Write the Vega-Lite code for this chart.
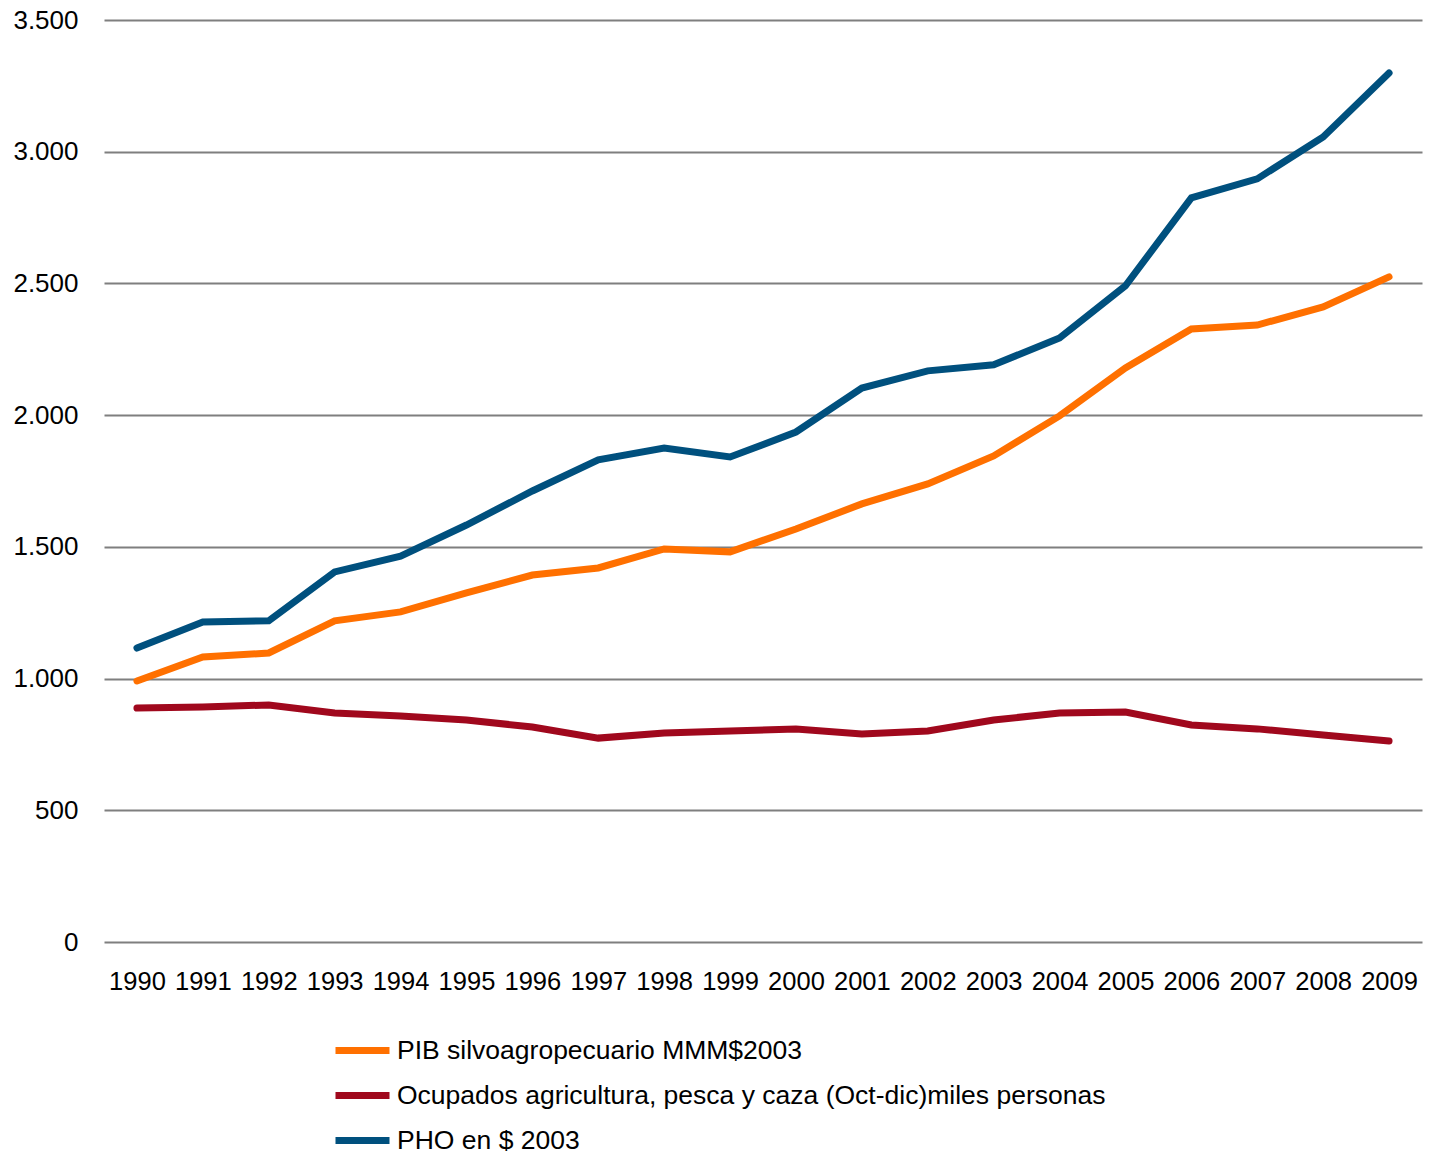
{
  "$schema": "https://vega.github.io/schema/vega-lite/v6.json",
  "width": 1318,
  "height": 922,
  "autosize": {"type": "none"},
  "padding": {"left": 104, "top": 20, "right": 9, "bottom": 213},
  "background": "white",
  "config": {"view": {"stroke": null}},
  "datasets": {
    "d": [
      {"year": "1990", "series": "PIB silvoagropecuario MMM$2003", "value": 991},
      {"year": "1991", "series": "PIB silvoagropecuario MMM$2003", "value": 1082},
      {"year": "1992", "series": "PIB silvoagropecuario MMM$2003", "value": 1097},
      {"year": "1993", "series": "PIB silvoagropecuario MMM$2003", "value": 1219},
      {"year": "1994", "series": "PIB silvoagropecuario MMM$2003", "value": 1253},
      {"year": "1995", "series": "PIB silvoagropecuario MMM$2003", "value": 1325},
      {"year": "1996", "series": "PIB silvoagropecuario MMM$2003", "value": 1393},
      {"year": "1997", "series": "PIB silvoagropecuario MMM$2003", "value": 1420},
      {"year": "1998", "series": "PIB silvoagropecuario MMM$2003", "value": 1492},
      {"year": "1999", "series": "PIB silvoagropecuario MMM$2003", "value": 1481},
      {"year": "2000", "series": "PIB silvoagropecuario MMM$2003", "value": 1568},
      {"year": "2001", "series": "PIB silvoagropecuario MMM$2003", "value": 1663},
      {"year": "2002", "series": "PIB silvoagropecuario MMM$2003", "value": 1739},
      {"year": "2003", "series": "PIB silvoagropecuario MMM$2003", "value": 1845},
      {"year": "2004", "series": "PIB silvoagropecuario MMM$2003", "value": 1997},
      {"year": "2005", "series": "PIB silvoagropecuario MMM$2003", "value": 2179},
      {"year": "2006", "series": "PIB silvoagropecuario MMM$2003", "value": 2327},
      {"year": "2007", "series": "PIB silvoagropecuario MMM$2003", "value": 2342},
      {"year": "2008", "series": "PIB silvoagropecuario MMM$2003", "value": 2411},
      {"year": "2009", "series": "PIB silvoagropecuario MMM$2003", "value": 2525},
      {"year": "1990", "series": "Ocupados agricultura, pesca y caza (Oct-dic)miles personas", "value": 888},
      {"year": "1991", "series": "Ocupados agricultura, pesca y caza (Oct-dic)miles personas", "value": 892},
      {"year": "1992", "series": "Ocupados agricultura, pesca y caza (Oct-dic)miles personas", "value": 900},
      {"year": "1993", "series": "Ocupados agricultura, pesca y caza (Oct-dic)miles personas", "value": 869},
      {"year": "1994", "series": "Ocupados agricultura, pesca y caza (Oct-dic)miles personas", "value": 858},
      {"year": "1995", "series": "Ocupados agricultura, pesca y caza (Oct-dic)miles personas", "value": 843},
      {"year": "1996", "series": "Ocupados agricultura, pesca y caza (Oct-dic)miles personas", "value": 816},
      {"year": "1997", "series": "Ocupados agricultura, pesca y caza (Oct-dic)miles personas", "value": 774},
      {"year": "1998", "series": "Ocupados agricultura, pesca y caza (Oct-dic)miles personas", "value": 793},
      {"year": "1999", "series": "Ocupados agricultura, pesca y caza (Oct-dic)miles personas", "value": 801},
      {"year": "2000", "series": "Ocupados agricultura, pesca y caza (Oct-dic)miles personas", "value": 809},
      {"year": "2001", "series": "Ocupados agricultura, pesca y caza (Oct-dic)miles personas", "value": 790},
      {"year": "2002", "series": "Ocupados agricultura, pesca y caza (Oct-dic)miles personas", "value": 801},
      {"year": "2003", "series": "Ocupados agricultura, pesca y caza (Oct-dic)miles personas", "value": 843},
      {"year": "2004", "series": "Ocupados agricultura, pesca y caza (Oct-dic)miles personas", "value": 869},
      {"year": "2005", "series": "Ocupados agricultura, pesca y caza (Oct-dic)miles personas", "value": 873},
      {"year": "2006", "series": "Ocupados agricultura, pesca y caza (Oct-dic)miles personas", "value": 824},
      {"year": "2007", "series": "Ocupados agricultura, pesca y caza (Oct-dic)miles personas", "value": 809},
      {"year": "2008", "series": "Ocupados agricultura, pesca y caza (Oct-dic)miles personas", "value": 786},
      {"year": "2009", "series": "Ocupados agricultura, pesca y caza (Oct-dic)miles personas", "value": 763},
      {"year": "1990", "series": "PHO en $ 2003", "value": 1116},
      {"year": "1991", "series": "PHO en $ 2003", "value": 1215},
      {"year": "1992", "series": "PHO en $ 2003", "value": 1219},
      {"year": "1993", "series": "PHO en $ 2003", "value": 1405},
      {"year": "1994", "series": "PHO en $ 2003", "value": 1465},
      {"year": "1995", "series": "PHO en $ 2003", "value": 1583},
      {"year": "1996", "series": "PHO en $ 2003", "value": 1712},
      {"year": "1997", "series": "PHO en $ 2003", "value": 1830},
      {"year": "1998", "series": "PHO en $ 2003", "value": 1875},
      {"year": "1999", "series": "PHO en $ 2003", "value": 1841},
      {"year": "2000", "series": "PHO en $ 2003", "value": 1936},
      {"year": "2001", "series": "PHO en $ 2003", "value": 2103},
      {"year": "2002", "series": "PHO en $ 2003", "value": 2168},
      {"year": "2003", "series": "PHO en $ 2003", "value": 2191},
      {"year": "2004", "series": "PHO en $ 2003", "value": 2293},
      {"year": "2005", "series": "PHO en $ 2003", "value": 2491},
      {"year": "2006", "series": "PHO en $ 2003", "value": 2825},
      {"year": "2007", "series": "PHO en $ 2003", "value": 2897},
      {"year": "2008", "series": "PHO en $ 2003", "value": 3056},
      {"year": "2009", "series": "PHO en $ 2003", "value": 3299}
    ]
  },
  "data": {"name": "d"},
  "mark": {"type": "line", "strokeWidth": 7, "strokeCap": "round", "strokeJoin": "miter"},
  "encoding": {
    "x": {
      "field": "year",
      "type": "ordinal",
      "scale": {"type": "point", "padding": 0.5},
      "axis": {
        "title": null,
        "labelAngle": 0,
        "domain": false,
        "ticks": false,
        "grid": false,
        "labelFont": "Liberation Sans",
        "labelFontSize": 25.5,
        "labelColor": "#000000",
        "labelPadding": 27
      }
    },
    "y": {
      "field": "value",
      "type": "quantitative",
      "scale": {"domain": [0, 3500], "nice": false},
      "axis": {
        "title": null,
        "values": [0, 500, 1000, 1500, 2000, 2500, 3000, 3500],
        "domain": false,
        "ticks": false,
        "grid": true,
        "gridColor": "#7f7f7f",
        "gridWidth": 2,
        "gridOpacity": 1,
        "labelExpr": "replace(format(datum.value, ','), ',', '.')",
        "labelFont": "Liberation Sans",
        "labelFontSize": 26,
        "labelColor": "#000000",
        "labelPadding": 26
      }
    },
    "color": {
      "field": "series",
      "type": "nominal",
      "scale": {
        "domain": ["PIB silvoagropecuario MMM$2003", "Ocupados agricultura, pesca y caza (Oct-dic)miles personas", "PHO en $ 2003"],
        "range": ["#FF7000", "#A0081D", "#00507E"]
      },
      "legend": {
        "title": null,
        "orient": "none",
        "legendX": 228,
        "legendY": 1000,
        "direction": "vertical",
        "symbolType": "stroke",
        "symbolSize": 2916,
        "symbolStrokeWidth": 7,
        "labelFont": "Liberation Sans",
        "labelFontSize": 26.5,
        "labelColor": "#000000",
        "labelOffset": 4,
        "labelLimit": 1200,
        "rowPadding": 0
      }
    }
  }
}
